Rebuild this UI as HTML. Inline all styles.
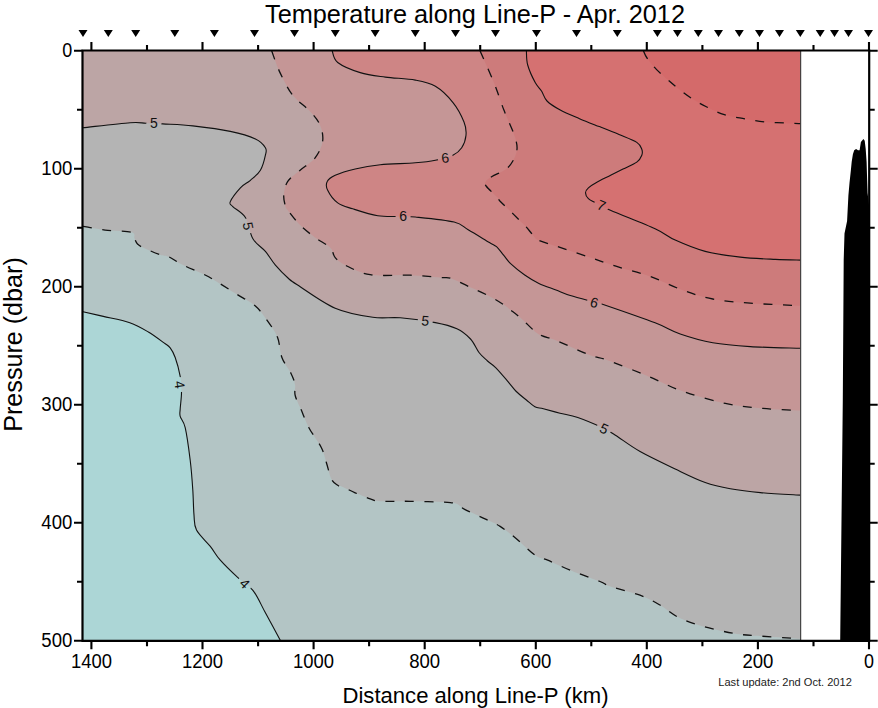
<!DOCTYPE html>
<html><head><meta charset="utf-8"><style>html,body{margin:0;padding:0;background:#fff;}svg{display:block;}</style></head>
<body><svg width="878" height="708" viewBox="0 0 878 708">
<rect width="878" height="708" fill="#fff"/>
<rect x="83" y="51" width="717.4" height="589.5" fill="#acd6d6"/>
<path fill="#b3c5c5" d="M83.0,311.8 C86.4,312.6 95.5,314.6 103.3,316.4 C111.1,318.2 122.3,320.1 129.8,322.7 C137.3,325.3 142.7,328.6 148.4,332.0 C154.1,335.4 160.4,340.3 164.0,342.9 C167.6,345.5 168.3,345.4 170.2,347.8 C172.1,350.2 173.5,352.8 175.2,357.5 C176.9,362.2 179.1,370.4 180.2,376.3 C181.2,382.2 181.5,387.2 181.5,392.6 C181.5,398.0 180.4,404.9 180.2,408.9 C180.0,412.9 179.4,413.3 180.2,416.4 C181.0,419.5 183.5,420.4 185.2,427.7 C186.9,435.0 188.9,449.8 190.2,460.2 C191.5,470.6 192.2,480.9 192.8,490.0 C193.4,499.1 193.4,508.4 194.0,515.1 C194.6,521.8 193.8,524.9 196.5,530.1 C199.2,535.3 206.3,541.4 210.3,546.4 C214.3,551.4 215.7,555.0 220.3,560.2 C224.9,565.4 232.5,572.7 237.9,577.7 C243.3,582.7 248.3,584.4 252.9,590.3 C257.5,596.1 260.8,604.4 265.4,612.8 C270.0,621.2 277.9,635.9 280.4,640.5 L800.4,640.5 L800.4,51.0 L83.0,51.0 Z"/>
<path fill="#b4b4b4" d="M83.0,226.3 C86.7,226.9 97.0,229.1 105.1,230.1 C113.2,231.1 126.6,230.9 131.5,232.3 C136.4,233.7 133.5,236.6 134.5,238.5 C135.5,240.4 135.8,242.3 137.5,244.0 C139.2,245.7 141.2,246.7 145.0,248.5 C148.8,250.3 156.0,253.3 160.0,254.7 C164.0,256.1 165.2,255.2 169.0,256.9 C172.8,258.6 176.6,261.8 182.6,264.8 C188.6,267.8 199.1,272.0 205.1,275.0 C211.1,278.0 213.4,279.7 218.7,282.9 C224.0,286.1 230.7,290.4 236.7,294.2 C242.7,298.0 249.9,301.4 254.8,305.5 C259.7,309.6 262.3,313.7 266.1,319.0 C269.9,324.3 274.8,330.7 277.4,337.1 C280.0,343.5 279.6,351.4 281.9,357.4 C284.1,363.4 288.7,368.7 290.9,373.2 C293.1,377.7 294.3,380.8 295.0,384.5 C295.7,388.2 294.1,391.2 295.2,395.5 C296.2,399.8 299.0,404.7 301.3,410.1 C303.6,415.5 305.5,421.4 308.9,427.7 C312.2,434.0 318.5,441.9 321.4,447.7 C324.3,453.5 324.7,457.5 326.4,462.7 C328.1,467.9 329.5,475.2 331.4,479.0 C333.3,482.8 335.8,484.0 337.7,485.3 C339.6,486.6 339.8,485.8 342.7,487.0 C345.6,488.2 350.6,490.8 355.2,492.8 C359.8,494.8 366.0,497.4 370.2,498.8 C374.4,500.2 373.6,500.9 380.3,501.3 C387.0,501.7 398.6,501.1 410.3,501.3 C422.0,501.5 442.0,501.8 450.4,502.6 C458.8,503.4 458.1,505.1 460.5,506.3 C462.9,507.5 460.6,507.3 465.1,509.6 C469.6,511.9 481.8,517.3 487.6,520.1 C493.4,522.9 495.5,523.5 500.1,526.4 C504.7,529.3 509.4,532.9 515.2,537.7 C521.1,542.5 529.8,551.5 535.2,555.2 C540.6,559.0 541.9,557.7 547.7,560.2 C553.6,562.7 561.6,566.7 570.3,570.2 C579.0,573.8 593.3,578.8 600.0,581.5 C606.7,584.2 603.7,584.2 610.4,586.5 C617.1,588.8 631.8,592.2 640.0,595.2 C648.2,598.2 653.3,601.2 659.4,604.8 C665.5,608.3 670.7,613.3 676.8,616.5 C682.9,619.7 689.3,622.0 696.1,624.2 C702.9,626.5 710.6,628.4 717.4,630.0 C724.2,631.6 730.3,632.9 736.8,633.9 C743.3,634.9 745.6,635.0 756.2,635.8 C766.8,636.6 793.0,638.3 800.4,638.8 L800.4,51.0 L83.0,51.0 Z"/>
<path fill="#bca5a5" d="M83.0,127.7 C90.8,126.9 119.6,123.5 130.1,122.7 C140.6,122.0 140.6,123.0 146.0,123.2 C151.4,123.4 154.9,123.5 162.7,123.9 C170.5,124.4 181.5,124.7 192.8,125.9 C204.1,127.2 219.9,129.2 230.3,131.4 C240.7,133.6 249.6,136.3 255.4,139.0 C261.2,141.7 263.7,145.0 265.4,147.7 C267.1,150.4 266.2,151.4 265.4,155.2 C264.6,159.0 262.9,166.1 260.4,170.3 C257.9,174.5 253.7,177.4 250.4,180.3 C247.1,183.2 243.8,184.2 240.4,187.8 C237.1,191.4 231.6,198.5 230.3,201.6 C229.0,204.7 230.3,203.9 232.8,206.6 C235.3,209.2 242.1,212.1 245.4,217.5 C248.8,222.9 249.6,233.2 252.9,238.8 C256.2,244.5 261.6,247.0 265.4,251.4 C269.1,255.8 271.6,260.7 275.4,265.1 C279.2,269.5 284.3,274.7 288.0,278.0 C291.7,281.3 289.7,280.0 297.6,285.0 C305.5,290.0 322.7,302.8 335.2,308.2 C347.7,313.6 361.9,315.7 372.8,317.3 C383.7,318.9 389.9,316.9 400.3,317.8 C410.7,318.7 426.0,320.8 435.4,322.6 C444.8,324.4 451.0,326.1 456.9,328.8 C462.8,331.5 466.8,335.1 470.5,339.0 C474.2,342.9 476.2,348.8 479.0,352.5 C481.8,356.2 484.7,358.4 487.5,361.0 C490.3,363.6 492.5,364.4 495.9,367.8 C499.3,371.2 504.4,377.4 507.8,381.4 C511.2,385.3 513.2,388.4 516.3,391.5 C519.4,394.6 523.3,397.4 526.4,400.0 C529.5,402.6 532.1,405.3 534.9,406.8 C537.7,408.3 539.2,407.7 543.4,408.8 C547.6,409.9 554.3,411.7 560.0,413.2 C565.7,414.7 570.6,415.1 577.8,417.6 C585.0,420.1 596.7,425.1 603.0,428.0 C609.3,430.9 609.2,431.3 615.4,435.2 C621.6,439.1 630.1,445.9 640.1,451.5 C650.1,457.1 664.4,463.8 675.2,469.0 C686.1,474.2 696.0,479.2 705.2,482.5 C714.4,485.8 721.1,487.1 730.3,488.8 C739.5,490.5 748.7,491.6 760.4,492.6 C772.1,493.7 793.7,494.7 800.4,495.1 L800.4,51.0 L83.0,51.0 Z"/>
<path fill="#c59696" d="M271.7,51.0 C273.1,54.6 276.5,65.2 280.0,72.6 C283.5,79.9 287.6,88.6 292.6,95.1 C297.6,101.6 305.5,106.4 310.1,111.4 C314.7,116.4 318.0,120.2 320.1,125.2 C322.2,130.2 323.4,136.1 322.6,141.5 C321.8,146.9 318.9,153.0 315.1,157.8 C311.4,162.6 304.7,166.3 300.1,170.3 C295.5,174.3 290.3,177.4 287.6,181.6 C284.9,185.8 284.2,191.4 283.8,195.3 C283.4,199.2 284.5,202.6 285.1,205.0 C285.7,207.4 285.1,206.7 287.6,210.0 C290.1,213.3 295.5,220.5 300.1,225.1 C304.7,229.7 310.1,233.8 315.1,237.6 C320.1,241.3 326.9,244.3 330.2,247.6 C333.5,250.9 332.7,254.7 335.2,257.6 C337.7,260.5 339.4,262.2 345.2,265.1 C351.0,268.0 359.3,273.0 370.2,274.7 C381.1,276.4 398.6,274.7 410.3,275.2 C422.0,275.7 433.6,276.9 440.4,277.5 C447.2,278.1 446.7,277.0 451.3,278.5 C455.9,280.0 461.9,283.4 468.2,286.3 C474.5,289.2 483.5,293.1 489.4,296.2 C495.3,299.2 500.1,302.3 503.6,304.6 C507.1,306.9 507.6,307.7 510.6,310.0 C513.6,312.3 517.4,315.0 521.4,318.6 C525.4,322.2 531.5,328.6 534.9,331.4 C538.3,334.2 537.8,333.9 541.7,335.6 C545.7,337.3 550.5,338.2 558.6,341.5 C566.7,344.8 582.1,352.2 590.3,355.3 C598.4,358.4 598.4,356.9 607.5,360.2 C616.6,363.5 632.6,369.8 645.1,375.0 C657.6,380.2 669.3,386.6 682.7,391.3 C696.1,396.0 711.9,400.5 725.3,403.4 C738.7,406.2 750.4,407.2 762.9,408.4 C775.4,409.6 794.1,410.2 800.4,410.6 L800.4,51.0 Z"/>
<path fill="#ce8585" d="M332.2,51.0 C333.1,52.9 333.0,58.9 337.7,62.5 C342.4,66.1 352.3,70.2 360.2,72.6 C368.1,75.0 376.1,75.8 385.3,77.1 C394.5,78.3 407.0,78.6 415.3,80.1 C423.6,81.6 429.1,82.5 435.4,86.3 C441.7,90.0 448.2,96.6 453.0,102.6 C457.8,108.5 461.8,116.6 464.0,122.0 C466.2,127.4 466.4,130.9 466.0,135.2 C465.6,139.5 463.9,144.4 461.7,147.7 C459.5,151.0 457.3,153.1 452.9,155.2 C448.5,157.3 441.7,159.0 435.4,160.3 C429.1,161.6 424.5,162.1 415.3,162.8 C406.1,163.6 390.3,163.8 380.3,164.8 C370.3,165.8 362.7,167.2 355.2,169.0 C347.7,170.8 339.9,173.2 335.2,175.3 C330.5,177.4 328.4,179.1 327.2,181.6 C325.9,184.1 325.9,186.8 327.7,190.3 C329.4,193.9 333.5,199.8 337.7,202.9 C341.9,206.0 346.0,206.7 352.7,208.8 C359.4,211.0 369.6,214.5 377.8,215.8 C386.0,217.1 395.8,216.3 402.0,216.5 C408.2,216.7 406.6,216.1 415.3,217.0 C424.0,217.9 445.3,219.9 454.1,222.0 C462.9,224.1 462.3,226.4 468.2,229.8 C474.1,233.2 484.7,239.7 489.4,242.5 C494.1,245.3 494.1,244.6 496.5,246.7 C498.9,248.8 501.2,252.4 503.6,255.2 C506.0,258.0 507.1,260.4 510.6,263.7 C514.1,267.0 520.0,271.7 524.7,275.0 C529.4,278.3 533.7,280.9 538.9,283.4 C544.1,285.9 550.8,288.0 556.0,290.0 C561.2,292.0 564.0,293.5 570.3,295.5 C576.6,297.5 588.1,300.4 594.0,302.0 C599.9,303.6 595.2,301.7 605.4,305.2 C615.6,308.7 642.6,318.0 655.1,322.8 C667.6,327.6 670.6,330.7 680.2,334.0 C689.8,337.3 701.1,340.7 712.8,342.8 C724.5,344.9 735.7,345.7 750.3,346.6 C764.9,347.5 792.0,348.0 800.4,348.3 L800.4,51.0 Z"/>
<path fill="#cd7b7b" d="M480.1,51.0 C482.4,56.3 489.9,72.8 493.9,82.6 C497.9,92.4 500.3,100.9 503.9,110.1 C507.4,119.3 513.1,130.6 515.2,137.7 C517.3,144.8 517.6,147.7 516.4,152.7 C515.1,157.7 511.8,163.8 507.7,167.8 C503.6,171.8 495.6,174.2 492.0,176.5 C488.4,178.8 486.7,179.8 485.8,181.5 C484.9,183.2 484.6,183.9 486.5,186.5 C488.4,189.1 495.0,194.8 497.3,197.3 C499.6,199.8 498.1,199.2 500.1,201.3 C502.1,203.4 506.0,206.9 509.2,210.0 C512.4,213.1 516.3,217.1 519.1,219.9 C521.9,222.7 523.9,224.3 526.2,226.9 C528.6,229.5 531.1,233.2 533.2,235.4 C535.3,237.7 534.4,238.4 538.9,240.4 C543.4,242.4 551.4,244.6 560.0,247.4 C568.6,250.2 582.8,255.0 590.3,257.5 C597.8,260.0 600.0,260.9 605.0,262.6 C610.0,264.3 612.9,265.4 620.4,267.7 C627.9,270.0 639.7,272.6 650.1,276.4 C660.5,280.1 672.2,286.4 682.7,290.2 C693.2,294.0 701.5,296.8 712.8,299.0 C724.1,301.2 735.7,302.1 750.3,303.2 C764.9,304.3 792.0,305.3 800.4,305.7 L800.4,51.0 Z"/>
<path fill="#d57171" d="M526.4,51.0 C526.6,53.3 526.2,59.7 527.7,65.0 C529.2,70.3 532.9,78.3 535.2,82.6 C537.5,86.9 539.5,87.9 541.5,91.0 C543.5,94.1 544.0,97.9 547.0,101.0 C550.0,104.1 554.4,106.8 559.8,109.8 C565.2,112.8 572.9,115.9 579.5,118.7 C586.1,121.5 592.7,124.0 599.3,126.6 C605.9,129.2 612.8,131.9 619.0,134.5 C625.2,137.1 633.0,139.9 636.8,142.4 C640.6,144.9 641.0,147.2 641.8,149.3 C642.6,151.4 642.6,153.1 641.8,155.2 C641.0,157.3 639.9,159.8 636.8,162.1 C633.7,164.4 627.3,166.8 623.0,169.0 C618.7,171.2 615.4,172.8 611.1,175.0 C606.8,177.2 601.1,179.8 597.3,181.9 C593.5,184.0 590.4,186.0 588.4,187.8 C586.4,189.6 585.5,191.0 585.5,192.8 C585.5,194.6 586.8,197.1 588.4,198.7 C590.0,200.3 591.6,200.7 595.3,202.6 C599.0,204.5 600.4,205.8 610.4,210.2 C620.4,214.6 644.3,223.8 655.1,228.8 C665.9,233.8 666.9,236.3 675.2,240.1 C683.6,243.9 694.4,248.6 705.2,251.4 C716.1,254.2 728.6,255.8 740.3,257.1 C752.0,258.4 765.4,258.9 775.4,259.4 C785.4,259.9 796.2,260.0 800.4,260.1 L800.4,51.0 Z"/>
<path fill="#d46a6a" d="M643.5,51.0 C644.1,52.2 644.8,54.9 647.0,58.0 C649.2,61.1 651.9,64.9 656.6,69.6 C661.3,74.3 669.3,81.2 675.1,86.0 C680.9,90.8 686.4,94.9 691.5,98.3 C696.6,101.7 700.3,103.8 705.8,106.5 C711.3,109.2 717.8,112.7 724.3,114.7 C730.8,116.8 738.0,117.6 744.8,118.8 C751.6,120.0 757.4,121.2 765.2,121.9 C773.1,122.7 786.0,123.0 791.9,123.3 C797.8,123.6 799.0,123.5 800.4,123.6 L800.4,51.0 Z"/>
<g mask="url(#lm)">
<path fill="none" stroke="#111" stroke-width="1.1" stroke-linejoin="round" d="M83.0,311.8 C86.4,312.6 95.5,314.6 103.3,316.4 C111.1,318.2 122.3,320.1 129.8,322.7 C137.3,325.3 142.7,328.6 148.4,332.0 C154.1,335.4 160.4,340.3 164.0,342.9 C167.6,345.5 168.3,345.4 170.2,347.8 C172.1,350.2 173.5,352.8 175.2,357.5 C176.9,362.2 179.1,370.4 180.2,376.3 C181.2,382.2 181.5,387.2 181.5,392.6 C181.5,398.0 180.4,404.9 180.2,408.9 C180.0,412.9 179.4,413.3 180.2,416.4 C181.0,419.5 183.5,420.4 185.2,427.7 C186.9,435.0 188.9,449.8 190.2,460.2 C191.5,470.6 192.2,480.9 192.8,490.0 C193.4,499.1 193.4,508.4 194.0,515.1 C194.6,521.8 193.8,524.9 196.5,530.1 C199.2,535.3 206.3,541.4 210.3,546.4 C214.3,551.4 215.7,555.0 220.3,560.2 C224.9,565.4 232.5,572.7 237.9,577.7 C243.3,582.7 248.3,584.4 252.9,590.3 C257.5,596.1 260.8,604.4 265.4,612.8 C270.0,621.2 277.9,635.9 280.4,640.5"/>
<path fill="none" stroke="#111" stroke-width="1.1" stroke-linejoin="round" d="M83.0,127.7 C90.8,126.9 119.6,123.5 130.1,122.7 C140.6,122.0 140.6,123.0 146.0,123.2 C151.4,123.4 154.9,123.5 162.7,123.9 C170.5,124.4 181.5,124.7 192.8,125.9 C204.1,127.2 219.9,129.2 230.3,131.4 C240.7,133.6 249.6,136.3 255.4,139.0 C261.2,141.7 263.7,145.0 265.4,147.7 C267.1,150.4 266.2,151.4 265.4,155.2 C264.6,159.0 262.9,166.1 260.4,170.3 C257.9,174.5 253.7,177.4 250.4,180.3 C247.1,183.2 243.8,184.2 240.4,187.8 C237.1,191.4 231.6,198.5 230.3,201.6 C229.0,204.7 230.3,203.9 232.8,206.6 C235.3,209.2 242.1,212.1 245.4,217.5 C248.8,222.9 249.6,233.2 252.9,238.8 C256.2,244.5 261.6,247.0 265.4,251.4 C269.1,255.8 271.6,260.7 275.4,265.1 C279.2,269.5 284.3,274.7 288.0,278.0 C291.7,281.3 289.7,280.0 297.6,285.0 C305.5,290.0 322.7,302.8 335.2,308.2 C347.7,313.6 361.9,315.7 372.8,317.3 C383.7,318.9 389.9,316.9 400.3,317.8 C410.7,318.7 426.0,320.8 435.4,322.6 C444.8,324.4 451.0,326.1 456.9,328.8 C462.8,331.5 466.8,335.1 470.5,339.0 C474.2,342.9 476.2,348.8 479.0,352.5 C481.8,356.2 484.7,358.4 487.5,361.0 C490.3,363.6 492.5,364.4 495.9,367.8 C499.3,371.2 504.4,377.4 507.8,381.4 C511.2,385.3 513.2,388.4 516.3,391.5 C519.4,394.6 523.3,397.4 526.4,400.0 C529.5,402.6 532.1,405.3 534.9,406.8 C537.7,408.3 539.2,407.7 543.4,408.8 C547.6,409.9 554.3,411.7 560.0,413.2 C565.7,414.7 570.6,415.1 577.8,417.6 C585.0,420.1 596.7,425.1 603.0,428.0 C609.3,430.9 609.2,431.3 615.4,435.2 C621.6,439.1 630.1,445.9 640.1,451.5 C650.1,457.1 664.4,463.8 675.2,469.0 C686.1,474.2 696.0,479.2 705.2,482.5 C714.4,485.8 721.1,487.1 730.3,488.8 C739.5,490.5 748.7,491.6 760.4,492.6 C772.1,493.7 793.7,494.7 800.4,495.1"/>
<path fill="none" stroke="#111" stroke-width="1.1" stroke-linejoin="round" d="M332.2,51.0 C333.1,52.9 333.0,58.9 337.7,62.5 C342.4,66.1 352.3,70.2 360.2,72.6 C368.1,75.0 376.1,75.8 385.3,77.1 C394.5,78.3 407.0,78.6 415.3,80.1 C423.6,81.6 429.1,82.5 435.4,86.3 C441.7,90.0 448.2,96.6 453.0,102.6 C457.8,108.5 461.8,116.6 464.0,122.0 C466.2,127.4 466.4,130.9 466.0,135.2 C465.6,139.5 463.9,144.4 461.7,147.7 C459.5,151.0 457.3,153.1 452.9,155.2 C448.5,157.3 441.7,159.0 435.4,160.3 C429.1,161.6 424.5,162.1 415.3,162.8 C406.1,163.6 390.3,163.8 380.3,164.8 C370.3,165.8 362.7,167.2 355.2,169.0 C347.7,170.8 339.9,173.2 335.2,175.3 C330.5,177.4 328.4,179.1 327.2,181.6 C325.9,184.1 325.9,186.8 327.7,190.3 C329.4,193.9 333.5,199.8 337.7,202.9 C341.9,206.0 346.0,206.7 352.7,208.8 C359.4,211.0 369.6,214.5 377.8,215.8 C386.0,217.1 395.8,216.3 402.0,216.5 C408.2,216.7 406.6,216.1 415.3,217.0 C424.0,217.9 445.3,219.9 454.1,222.0 C462.9,224.1 462.3,226.4 468.2,229.8 C474.1,233.2 484.7,239.7 489.4,242.5 C494.1,245.3 494.1,244.6 496.5,246.7 C498.9,248.8 501.2,252.4 503.6,255.2 C506.0,258.0 507.1,260.4 510.6,263.7 C514.1,267.0 520.0,271.7 524.7,275.0 C529.4,278.3 533.7,280.9 538.9,283.4 C544.1,285.9 550.8,288.0 556.0,290.0 C561.2,292.0 564.0,293.5 570.3,295.5 C576.6,297.5 588.1,300.4 594.0,302.0 C599.9,303.6 595.2,301.7 605.4,305.2 C615.6,308.7 642.6,318.0 655.1,322.8 C667.6,327.6 670.6,330.7 680.2,334.0 C689.8,337.3 701.1,340.7 712.8,342.8 C724.5,344.9 735.7,345.7 750.3,346.6 C764.9,347.5 792.0,348.0 800.4,348.3"/>
<path fill="none" stroke="#111" stroke-width="1.1" stroke-linejoin="round" d="M526.4,51.0 C526.6,53.3 526.2,59.7 527.7,65.0 C529.2,70.3 532.9,78.3 535.2,82.6 C537.5,86.9 539.5,87.9 541.5,91.0 C543.5,94.1 544.0,97.9 547.0,101.0 C550.0,104.1 554.4,106.8 559.8,109.8 C565.2,112.8 572.9,115.9 579.5,118.7 C586.1,121.5 592.7,124.0 599.3,126.6 C605.9,129.2 612.8,131.9 619.0,134.5 C625.2,137.1 633.0,139.9 636.8,142.4 C640.6,144.9 641.0,147.2 641.8,149.3 C642.6,151.4 642.6,153.1 641.8,155.2 C641.0,157.3 639.9,159.8 636.8,162.1 C633.7,164.4 627.3,166.8 623.0,169.0 C618.7,171.2 615.4,172.8 611.1,175.0 C606.8,177.2 601.1,179.8 597.3,181.9 C593.5,184.0 590.4,186.0 588.4,187.8 C586.4,189.6 585.5,191.0 585.5,192.8 C585.5,194.6 586.8,197.1 588.4,198.7 C590.0,200.3 591.6,200.7 595.3,202.6 C599.0,204.5 600.4,205.8 610.4,210.2 C620.4,214.6 644.3,223.8 655.1,228.8 C665.9,233.8 666.9,236.3 675.2,240.1 C683.6,243.9 694.4,248.6 705.2,251.4 C716.1,254.2 728.6,255.8 740.3,257.1 C752.0,258.4 765.4,258.9 775.4,259.4 C785.4,259.9 796.2,260.0 800.4,260.1"/>
</g>
<path fill="none" stroke="#111" stroke-width="1.3" stroke-dasharray="9 10.5" d="M83.0,226.3 C86.7,226.9 97.0,229.1 105.1,230.1 C113.2,231.1 126.6,230.9 131.5,232.3 C136.4,233.7 133.5,236.6 134.5,238.5 C135.5,240.4 135.8,242.3 137.5,244.0 C139.2,245.7 141.2,246.7 145.0,248.5 C148.8,250.3 156.0,253.3 160.0,254.7 C164.0,256.1 165.2,255.2 169.0,256.9 C172.8,258.6 176.6,261.8 182.6,264.8 C188.6,267.8 199.1,272.0 205.1,275.0 C211.1,278.0 213.4,279.7 218.7,282.9 C224.0,286.1 230.7,290.4 236.7,294.2 C242.7,298.0 249.9,301.4 254.8,305.5 C259.7,309.6 262.3,313.7 266.1,319.0 C269.9,324.3 274.8,330.7 277.4,337.1 C280.0,343.5 279.6,351.4 281.9,357.4 C284.1,363.4 288.7,368.7 290.9,373.2 C293.1,377.7 294.3,380.8 295.0,384.5 C295.7,388.2 294.1,391.2 295.2,395.5 C296.2,399.8 299.0,404.7 301.3,410.1 C303.6,415.5 305.5,421.4 308.9,427.7 C312.2,434.0 318.5,441.9 321.4,447.7 C324.3,453.5 324.7,457.5 326.4,462.7 C328.1,467.9 329.5,475.2 331.4,479.0 C333.3,482.8 335.8,484.0 337.7,485.3 C339.6,486.6 339.8,485.8 342.7,487.0 C345.6,488.2 350.6,490.8 355.2,492.8 C359.8,494.8 366.0,497.4 370.2,498.8 C374.4,500.2 373.6,500.9 380.3,501.3 C387.0,501.7 398.6,501.1 410.3,501.3 C422.0,501.5 442.0,501.8 450.4,502.6 C458.8,503.4 458.1,505.1 460.5,506.3 C462.9,507.5 460.6,507.3 465.1,509.6 C469.6,511.9 481.8,517.3 487.6,520.1 C493.4,522.9 495.5,523.5 500.1,526.4 C504.7,529.3 509.4,532.9 515.2,537.7 C521.1,542.5 529.8,551.5 535.2,555.2 C540.6,559.0 541.9,557.7 547.7,560.2 C553.6,562.7 561.6,566.7 570.3,570.2 C579.0,573.8 593.3,578.8 600.0,581.5 C606.7,584.2 603.7,584.2 610.4,586.5 C617.1,588.8 631.8,592.2 640.0,595.2 C648.2,598.2 653.3,601.2 659.4,604.8 C665.5,608.3 670.7,613.3 676.8,616.5 C682.9,619.7 689.3,622.0 696.1,624.2 C702.9,626.5 710.6,628.4 717.4,630.0 C724.2,631.6 730.3,632.9 736.8,633.9 C743.3,634.9 745.6,635.0 756.2,635.8 C766.8,636.6 793.0,638.3 800.4,638.8"/>
<path fill="none" stroke="#111" stroke-width="1.3" stroke-dasharray="9 10.5" d="M271.7,51.0 C273.1,54.6 276.5,65.2 280.0,72.6 C283.5,79.9 287.6,88.6 292.6,95.1 C297.6,101.6 305.5,106.4 310.1,111.4 C314.7,116.4 318.0,120.2 320.1,125.2 C322.2,130.2 323.4,136.1 322.6,141.5 C321.8,146.9 318.9,153.0 315.1,157.8 C311.4,162.6 304.7,166.3 300.1,170.3 C295.5,174.3 290.3,177.4 287.6,181.6 C284.9,185.8 284.2,191.4 283.8,195.3 C283.4,199.2 284.5,202.6 285.1,205.0 C285.7,207.4 285.1,206.7 287.6,210.0 C290.1,213.3 295.5,220.5 300.1,225.1 C304.7,229.7 310.1,233.8 315.1,237.6 C320.1,241.3 326.9,244.3 330.2,247.6 C333.5,250.9 332.7,254.7 335.2,257.6 C337.7,260.5 339.4,262.2 345.2,265.1 C351.0,268.0 359.3,273.0 370.2,274.7 C381.1,276.4 398.6,274.7 410.3,275.2 C422.0,275.7 433.6,276.9 440.4,277.5 C447.2,278.1 446.7,277.0 451.3,278.5 C455.9,280.0 461.9,283.4 468.2,286.3 C474.5,289.2 483.5,293.1 489.4,296.2 C495.3,299.2 500.1,302.3 503.6,304.6 C507.1,306.9 507.6,307.7 510.6,310.0 C513.6,312.3 517.4,315.0 521.4,318.6 C525.4,322.2 531.5,328.6 534.9,331.4 C538.3,334.2 537.8,333.9 541.7,335.6 C545.7,337.3 550.5,338.2 558.6,341.5 C566.7,344.8 582.1,352.2 590.3,355.3 C598.4,358.4 598.4,356.9 607.5,360.2 C616.6,363.5 632.6,369.8 645.1,375.0 C657.6,380.2 669.3,386.6 682.7,391.3 C696.1,396.0 711.9,400.5 725.3,403.4 C738.7,406.2 750.4,407.2 762.9,408.4 C775.4,409.6 794.1,410.2 800.4,410.6"/>
<path fill="none" stroke="#111" stroke-width="1.3" stroke-dasharray="9 10.5" d="M480.1,51.0 C482.4,56.3 489.9,72.8 493.9,82.6 C497.9,92.4 500.3,100.9 503.9,110.1 C507.4,119.3 513.1,130.6 515.2,137.7 C517.3,144.8 517.6,147.7 516.4,152.7 C515.1,157.7 511.8,163.8 507.7,167.8 C503.6,171.8 495.6,174.2 492.0,176.5 C488.4,178.8 486.7,179.8 485.8,181.5 C484.9,183.2 484.6,183.9 486.5,186.5 C488.4,189.1 495.0,194.8 497.3,197.3 C499.6,199.8 498.1,199.2 500.1,201.3 C502.1,203.4 506.0,206.9 509.2,210.0 C512.4,213.1 516.3,217.1 519.1,219.9 C521.9,222.7 523.9,224.3 526.2,226.9 C528.6,229.5 531.1,233.2 533.2,235.4 C535.3,237.7 534.4,238.4 538.9,240.4 C543.4,242.4 551.4,244.6 560.0,247.4 C568.6,250.2 582.8,255.0 590.3,257.5 C597.8,260.0 600.0,260.9 605.0,262.6 C610.0,264.3 612.9,265.4 620.4,267.7 C627.9,270.0 639.7,272.6 650.1,276.4 C660.5,280.1 672.2,286.4 682.7,290.2 C693.2,294.0 701.5,296.8 712.8,299.0 C724.1,301.2 735.7,302.1 750.3,303.2 C764.9,304.3 792.0,305.3 800.4,305.7"/>
<path fill="none" stroke="#111" stroke-width="1.3" stroke-dasharray="9 10.5" d="M643.5,51.0 C644.1,52.2 644.8,54.9 647.0,58.0 C649.2,61.1 651.9,64.9 656.6,69.6 C661.3,74.3 669.3,81.2 675.1,86.0 C680.9,90.8 686.4,94.9 691.5,98.3 C696.6,101.7 700.3,103.8 705.8,106.5 C711.3,109.2 717.8,112.7 724.3,114.7 C730.8,116.8 738.0,117.6 744.8,118.8 C751.6,120.0 757.4,121.2 765.2,121.9 C773.1,122.7 786.0,123.0 791.9,123.3 C797.8,123.6 799.0,123.5 800.4,123.6"/>
<rect x="800.4" y="51" width="68.60000000000002" height="589.5" fill="#fff"/>
<line x1="800.6999999999999" y1="51" x2="800.6999999999999" y2="640.5" stroke="#222" stroke-width="1"/>
<path d="M82.5,641.9 L82.5,50.5 L869.2,50.5 L869.2,641.9 M81.5,640.8 L870.2,640.8" fill="none" stroke="#000" stroke-width="2.2"/>
<path d="M869.0,50.5 v-8.5 M869.0,640.8 v8.5 M813.5,50.5 v-5.5 M813.5,640.8 v5.5 M757.9,50.5 v-8.5 M757.9,640.8 v8.5 M702.4,50.5 v-5.5 M702.4,640.8 v5.5 M646.8,50.5 v-8.5 M646.8,640.8 v8.5 M591.3,50.5 v-5.5 M591.3,640.8 v5.5 M535.8,50.5 v-8.5 M535.8,640.8 v8.5 M480.2,50.5 v-5.5 M480.2,640.8 v5.5 M424.7,50.5 v-8.5 M424.7,640.8 v8.5 M369.1,50.5 v-5.5 M369.1,640.8 v5.5 M313.6,50.5 v-8.5 M313.6,640.8 v8.5 M258.1,50.5 v-5.5 M258.1,640.8 v5.5 M202.5,50.5 v-8.5 M202.5,640.8 v8.5 M147.0,50.5 v-5.5 M147.0,640.8 v5.5 M91.4,50.5 v-8.5 M91.4,640.8 v8.5 M82.5,50.7 h-8.5 M869.2,50.7 h8.5 M82.5,109.7 h-5.5 M869.2,109.7 h5.5 M82.5,168.7 h-8.5 M869.2,168.7 h8.5 M82.5,227.7 h-5.5 M869.2,227.7 h5.5 M82.5,286.7 h-8.5 M869.2,286.7 h8.5 M82.5,345.7 h-5.5 M869.2,345.7 h5.5 M82.5,404.8 h-8.5 M869.2,404.8 h8.5 M82.5,463.8 h-5.5 M869.2,463.8 h5.5 M82.5,522.8 h-8.5 M869.2,522.8 h8.5 M82.5,581.8 h-5.5 M869.2,581.8 h5.5 M82.5,640.8 h-8.5 M869.2,640.8 h8.5" stroke="#000" stroke-width="2.1" fill="none"/>
<path d="M78.5,30 h9 l-4.5,7 z M103.8,30 h9 l-4.5,7 z M131.2,30 h9 l-4.5,7 z M170.3,30 h9 l-4.5,7 z M209.9,30 h9 l-4.5,7 z M250.0,30 h9 l-4.5,7 z M290.0,30 h9 l-4.5,7 z M330.8,30 h9 l-4.5,7 z M370.7,30 h9 l-4.5,7 z M410.8,30 h9 l-4.5,7 z M451.0,30 h9 l-4.5,7 z M491.0,30 h9 l-4.5,7 z M532.0,30 h9 l-4.5,7 z M572.0,30 h9 l-4.5,7 z M612.8,30 h9 l-4.5,7 z M652.9,30 h9 l-4.5,7 z M673.0,30 h9 l-4.5,7 z M693.8,30 h9 l-4.5,7 z M714.0,30 h9 l-4.5,7 z M734.8,30 h9 l-4.5,7 z M755.0,30 h9 l-4.5,7 z M775.0,30 h9 l-4.5,7 z M795.8,30 h9 l-4.5,7 z M815.7,30 h9 l-4.5,7 z M830.0,30 h9 l-4.5,7 z M844.0,30 h9 l-4.5,7 z M864.0,30 h9 l-4.5,7 z" fill="#000"/>
<defs><mask id="lm" maskUnits="userSpaceOnUse" x="0" y="0" width="878" height="708"><rect width="878" height="708" fill="#fff"/><circle cx="153.9" cy="123.4" r="7.6" fill="#000"/><circle cx="248.3" cy="225.9" r="7.6" fill="#000"/><circle cx="445.2" cy="157.7" r="7.6" fill="#000"/><circle cx="403.1" cy="216.1" r="7.6" fill="#000"/><circle cx="601.5" cy="205.2" r="7.6" fill="#000"/><circle cx="594.3" cy="302.4" r="7.6" fill="#000"/><circle cx="425.3" cy="320.7" r="7.6" fill="#000"/><circle cx="604.1" cy="428.5" r="7.6" fill="#000"/><circle cx="179.8" cy="384.6" r="7.6" fill="#000"/><circle cx="244.8" cy="583.4" r="7.6" fill="#000"/></mask></defs>
<text transform="translate(153.9,123.4) rotate(0)" x="0" y="5" font-family="Liberation Sans, sans-serif" font-size="14" text-anchor="middle" fill="#111">5</text><text transform="translate(248.3,225.9) rotate(78)" x="0" y="5" font-family="Liberation Sans, sans-serif" font-size="14" text-anchor="middle" fill="#111">5</text><text transform="translate(445.2,157.7) rotate(-5)" x="0" y="5" font-family="Liberation Sans, sans-serif" font-size="14" text-anchor="middle" fill="#111">6</text><text transform="translate(403.1,216.1) rotate(0)" x="0" y="5" font-family="Liberation Sans, sans-serif" font-size="14" text-anchor="middle" fill="#111">6</text><text transform="translate(601.5,205.2) rotate(22)" x="0" y="5" font-family="Liberation Sans, sans-serif" font-size="14" text-anchor="middle" fill="#111">7</text><text transform="translate(594.3,302.4) rotate(15)" x="0" y="5" font-family="Liberation Sans, sans-serif" font-size="14" text-anchor="middle" fill="#111">6</text><text transform="translate(425.3,320.7) rotate(5)" x="0" y="5" font-family="Liberation Sans, sans-serif" font-size="14" text-anchor="middle" fill="#111">5</text><text transform="translate(604.1,428.5) rotate(25)" x="0" y="5" font-family="Liberation Sans, sans-serif" font-size="14" text-anchor="middle" fill="#111">5</text><text transform="translate(179.8,384.6) rotate(82)" x="0" y="5" font-family="Liberation Sans, sans-serif" font-size="14" text-anchor="middle" fill="#111">4</text><text transform="translate(244.8,583.4) rotate(45)" x="0" y="5" font-family="Liberation Sans, sans-serif" font-size="14" text-anchor="middle" fill="#111">4</text>
<path d="M840.2,640.5 L842.8,400 L843.7,260 L844.5,233.6 L847.1,221 L848.4,195.4 L849.5,183 L850.9,170 L851.7,161.8 L852.9,154.2 L854.2,150.3 L856.1,149.1 L858,150.3 L859.6,150.3 L860.9,142.1 L863.4,138.9 L864.7,140.8 L865.7,149.1 L866.6,161.8 L867,175 L867.6,193 L869,205 L869,640.5 Z" fill="#000"/>
<text x="72.3" y="57.2" font-family="Liberation Sans, sans-serif" font-size="19.5" text-anchor="end" textLength="10" lengthAdjust="spacingAndGlyphs">0</text>
<text x="72.3" y="175.2" font-family="Liberation Sans, sans-serif" font-size="19.5" text-anchor="end" textLength="31" lengthAdjust="spacingAndGlyphs">100</text>
<text x="72.3" y="293.2" font-family="Liberation Sans, sans-serif" font-size="19.5" text-anchor="end" textLength="31" lengthAdjust="spacingAndGlyphs">200</text>
<text x="72.3" y="411.3" font-family="Liberation Sans, sans-serif" font-size="19.5" text-anchor="end" textLength="31" lengthAdjust="spacingAndGlyphs">300</text>
<text x="72.3" y="529.3" font-family="Liberation Sans, sans-serif" font-size="19.5" text-anchor="end" textLength="31" lengthAdjust="spacingAndGlyphs">400</text>
<text x="72.3" y="647.3" font-family="Liberation Sans, sans-serif" font-size="19.5" text-anchor="end" textLength="31" lengthAdjust="spacingAndGlyphs">500</text>
<text x="869.0" y="667.9" font-family="Liberation Sans, sans-serif" font-size="19.5" text-anchor="middle" textLength="10" lengthAdjust="spacingAndGlyphs">0</text>
<text x="757.9" y="667.9" font-family="Liberation Sans, sans-serif" font-size="19.5" text-anchor="middle" textLength="31" lengthAdjust="spacingAndGlyphs">200</text>
<text x="646.8" y="667.9" font-family="Liberation Sans, sans-serif" font-size="19.5" text-anchor="middle" textLength="31" lengthAdjust="spacingAndGlyphs">400</text>
<text x="535.8" y="667.9" font-family="Liberation Sans, sans-serif" font-size="19.5" text-anchor="middle" textLength="31" lengthAdjust="spacingAndGlyphs">600</text>
<text x="424.7" y="667.9" font-family="Liberation Sans, sans-serif" font-size="19.5" text-anchor="middle" textLength="31" lengthAdjust="spacingAndGlyphs">800</text>
<text x="313.6" y="667.9" font-family="Liberation Sans, sans-serif" font-size="19.5" text-anchor="middle" textLength="41" lengthAdjust="spacingAndGlyphs">1000</text>
<text x="202.5" y="667.9" font-family="Liberation Sans, sans-serif" font-size="19.5" text-anchor="middle" textLength="41" lengthAdjust="spacingAndGlyphs">1200</text>
<text x="91.4" y="667.9" font-family="Liberation Sans, sans-serif" font-size="19.5" text-anchor="middle" textLength="41" lengthAdjust="spacingAndGlyphs">1400</text>
<text x="265" y="23.1" font-family="Liberation Sans, sans-serif" font-size="25.3" textLength="420" lengthAdjust="spacingAndGlyphs">Temperature along Line-P - Apr. 2012</text>
<text x="342.5" y="702.8" font-family="Liberation Sans, sans-serif" font-size="22.5" textLength="266" lengthAdjust="spacingAndGlyphs">Distance along Line-P (km)</text>
<text transform="translate(22.4,431.8) rotate(-90)" x="0" y="0" font-family="Liberation Sans, sans-serif" font-size="25" textLength="174.6" lengthAdjust="spacingAndGlyphs">Pressure (dbar)</text>
<text x="718.3" y="685.6" font-family="Liberation Sans, sans-serif" font-size="11" fill="#222" textLength="133.5" lengthAdjust="spacingAndGlyphs">Last update: 2nd Oct. 2012</text>
</svg></body></html>
